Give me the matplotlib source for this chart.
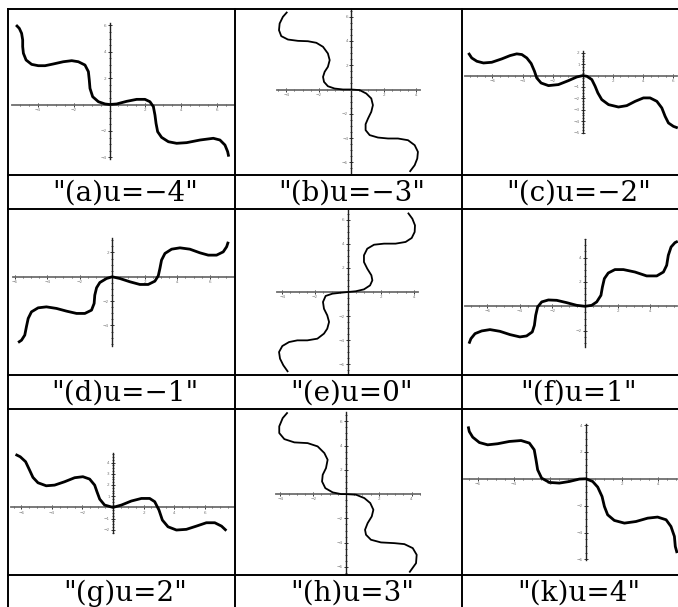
import numpy as np
import matplotlib.pyplot as plt
from matplotlib.lines import Line2D
from matplotlib.ticker import FixedLocator, FuncFormatter

W, H = 678, 607

captions = ['"(a)u=−4"', '"(b)u=−3"', '"(c)u=−2"',
            '"(d)u=−1"', '"(e)u=0"', '"(f)u=1"',
            '"(g)u=2"', '"(h)u=3"', '"(k)u=4"']

# curve samples for each u
a_x = [-5.22, -5.04, -4.91, -4.85, -4.85, -4.81, -4.66, -4.35, -3.98, -3.60, -3.14, -2.58, -2.11, -1.74,
       -1.37, -1.18, -1.13, -1.09, -0.94, -0.62, -0.25, 0.0, 0.40, 0.96, 1.52, 1.98, 2.26, 2.45, 2.54,
       2.60, 2.69, 2.91, 3.29, 3.75, 4.31, 5.06, 5.80, 6.17, 6.45, 6.60, 6.66]
a_y = [6.02, 5.77, 5.39, 4.89, 4.38, 3.88, 3.37, 3.04, 2.94, 2.94, 3.07, 3.24, 3.32, 3.24,
       2.99, 2.49, 1.86, 1.22, 0.59, 0.21, 0.04, 0.0, 0.04, 0.24, 0.39, 0.39, 0.21, -0.16, -0.80,
       -1.43, -2.06, -2.49, -2.82, -2.94, -2.89, -2.69, -2.56, -2.69, -3.07, -3.57, -3.95]

b_x = [-3.94, -4.21, -4.41, -4.45, -4.31, -3.90, -3.28, -2.67, -2.15, -1.74, -1.44, -1.33, -1.44,
       -1.64, -1.74, -1.68, -1.44, -1.03, -0.51, 0.0, 0.51, 0.92, 1.23, 1.33, 1.23, 1.03, 0.88, 0.88,
       1.13, 1.64, 2.26, 2.87, 3.49, 3.90, 4.10, 4.06, 3.90, 3.59]
b_y = [6.40, 5.99, 5.44, 4.89, 4.40, 4.12, 4.01, 3.98, 3.85, 3.52, 2.97, 2.42, 1.87,
       1.46, 1.04, 0.63, 0.27, 0.08, 0.0, 0.0, -0.05, -0.33, -0.74, -1.29, -1.84, -2.39, -2.86, -3.35,
       -3.76, -3.96, -4.04, -4.04, -4.18, -4.59, -5.14, -5.69, -6.24, -6.79]

c_x = [-7.60, -7.38, -7.04, -6.60, -6.05, -5.38, -4.83, -4.39, -4.05, -3.72, -3.43, -3.21, -3.06,
       -2.77, -2.28, -1.62, -0.95, -0.40, 0.0, 0.27, 0.60, 0.82, 1.00, 1.26, 1.71, 2.37, 2.92, 3.48,
       4.03, 4.47, 4.92, 5.25, 5.47, 5.69, 6.02, 6.31]
c_y = [1.99, 1.55, 1.26, 1.11, 1.17, 1.47, 1.76, 1.91, 1.85, 1.55, 1.06, 0.38, -0.21,
       -0.65, -0.88, -0.79, -0.44, -0.12, 0.0, -0.06, -0.35, -0.94, -1.52, -2.11, -2.55, -2.76, -2.64,
       -2.26, -1.96, -1.96, -2.26, -2.84, -3.58, -4.16, -4.46, -4.60]

d_x = [-5.78, -5.57, -5.37, -5.27, -5.16, -4.96, -4.55, -4.04, -3.42, -2.81, -2.19, -1.68, -1.27,
       -1.11, -1.07, -0.96, -0.76, -0.35, 0.0, 0.47, 1.09, 1.70, 2.21, 2.62, 2.83, 2.93, 3.03, 3.24,
       3.65, 4.16, 4.77, 5.39, 5.90, 6.41, 6.82, 7.03, 7.13]
d_y = [-5.40, -5.21, -4.79, -4.11, -3.42, -2.88, -2.55, -2.47, -2.60, -2.82, -3.01, -3.01, -2.74,
       -2.19, -1.51, -0.90, -0.47, -0.14, 0.0, -0.14, -0.41, -0.63, -0.63, -0.36, 0.08, 0.68, 1.37,
       1.92, 2.27, 2.38, 2.27, 1.97, 1.78, 1.78, 2.05, 2.47, 2.88]

e_x = [3.64, 3.91, 4.07, 4.05, 3.87, 3.50, 2.89, 2.19, 1.58, 1.17, 0.97, 0.97, 1.17, 1.42, 1.48,
       1.34, 0.97, 0.47, 0.0, -0.45, -0.95, -1.36, -1.52, -1.46, -1.26, -1.15, -1.26, -1.46, -1.86,
       -2.47, -3.08, -3.58, -3.99, -4.19, -4.13, -3.93, -3.64]
e_y = [6.59, 6.09, 5.54, 4.99, 4.49, 4.16, 4.02, 4.02, 3.93, 3.60, 3.05, 2.49, 1.94, 1.39, 0.97,
       0.55, 0.22, 0.06, 0.0, -0.06, -0.14, -0.33, -0.83, -1.39, -1.94, -2.49, -3.05, -3.46, -3.88,
       -4.02, -4.02, -4.16, -4.49, -4.99, -5.54, -6.09, -6.65]

f_x = [-7.13, -7.01, -6.76, -6.35, -5.84, -5.23, -4.61, -4.00, -3.59, -3.24, -3.11, -3.03, -2.91,
       -2.66, -2.25, -1.74, -1.13, -0.51, 0.0, 0.41, 0.72, 0.98, 1.07, 1.19, 1.43, 1.84, 2.36, 3.07,
       3.79, 4.41, 4.82, 5.02, 5.12, 5.29, 5.53, 5.70]
f_y = [-3.06, -2.65, -2.24, -2.02, -1.91, -2.05, -2.32, -2.51, -2.43, -2.10, -1.56, -0.74, -0.05,
       0.36, 0.52, 0.49, 0.30, 0.08, 0.0, 0.08, 0.36, 0.90, 1.58, 2.27, 2.73, 3.01, 3.01, 2.81,
       2.49, 2.49, 2.81, 3.36, 4.18, 4.86, 5.22, 5.33]

g_x = [-6.38, -6.07, -5.72, -5.46, -5.24, -4.91, -4.37, -3.82, -3.17, -2.51, -1.97, -1.53, -1.20,
       -1.05, -0.87, -0.55, 0.0, 0.55, 1.20, 1.86, 2.40, 2.73, 3.01, 3.23, 3.60, 4.15, 4.80, 5.46,
       6.11, 6.66, 7.10, 7.42]
g_y = [4.73, 4.52, 4.08, 3.33, 2.68, 2.20, 1.93, 1.99, 2.29, 2.65, 2.74, 2.53, 1.99,
       1.40, 0.74, 0.21, 0.0, 0.21, 0.57, 0.80, 0.80, 0.51, -0.24, -1.13, -1.73, -2.02, -1.96, -1.67,
       -1.37, -1.37, -1.67, -2.08]

h_x = [-3.56, -3.86, -4.07, -4.07, -3.76, -3.15, -2.34, -1.73, -1.32, -1.12, -1.22, -1.42, -1.46,
       -1.26, -0.81, -0.30, 0.0, 0.61, 1.12, 1.48, 1.67, 1.57, 1.32, 1.16, 1.22, 1.52, 2.13, 2.95,
       3.56, 4.07, 4.31, 4.27, 3.86]
h_y = [6.73, 6.26, 5.58, 5.03, 4.53, 4.26, 4.20, 3.93, 3.38, 2.83, 2.14, 1.59, 1.04,
       0.49, 0.14, 0.0, 0.0, -0.05, -0.33, -0.74, -1.29, -1.84, -2.39, -2.94, -3.35, -3.76, -3.98,
       -4.04, -4.12, -4.45, -5.00, -5.69, -6.46]

k_x = [-6.53, -6.47, -6.28, -5.91, -5.45, -4.90, -4.25, -3.60, -3.14, -2.87, -2.77, -2.68, -2.46,
       -2.03, -1.48, -0.92, -0.37, 0.0, 0.37, 0.65, 0.89, 1.02, 1.20, 1.57, 2.13, 2.77, 3.42, 3.97,
       4.44, 4.71, 4.90, 4.95, 5.05]
k_y = [3.90, 3.52, 3.10, 2.70, 2.53, 2.61, 2.78, 2.85, 2.66, 2.16, 1.41, 0.67, 0.05,
       -0.27, -0.32, -0.20, -0.02, 0.0, -0.20, -0.62, -1.32, -2.06, -2.68, -3.10, -3.30, -3.18, -2.93,
       -2.85, -3.05, -3.55, -4.29, -5.04, -5.53]

curves = [(a_x, a_y), (b_x, b_y), (c_x, c_y), (d_x, d_y), (e_x, e_y),
          (f_x, f_y), (g_x, g_y), (h_x, h_y), (k_x, k_y)]

# origin in pixels, pixels per unit, axis extents, tick steps
panels = [
    dict(o=(109.5, 104.5), s=(17.9, 13.2), xb=(-5.45, 8), yb=(-4.1, 6.2), yt=2, lw=2.0),
    dict(o=(351.3, 89.5), s=(16.25, 12.13), xb=(-4.6, 4.21), yb=(-6.9, 6.6), yt=2, lw=1.3),
    dict(o=(582.8, 75.6), s=(15.05, 11.38), xb=(-7.84, 8), yb=(-5.0, 2.2), yt=1, lw=2.0),
    dict(o=(112.2, 276.8), s=(16.28, 12.17), xb=(-6.1, 8), yb=(-5.65, 3.15), yt=2, lw=2.0),
    dict(o=(348.0, 292.0), s=(16.46, 12.03), xb=(-4.3, 4.25), yb=(-6.8, 7.0), yt=2, lw=1.3),
    dict(o=(585.0, 306.3), s=(16.27, 12.2), xb=(-7.4, 8), yb=(-3.3, 5.55), yt=2, lw=2.0),
    dict(o=(113.0, 507.4), s=(15.28, 11.2), xb=(-6.7, 8), yb=(-2.3, 4.9), yt=1, lw=2.0),
    dict(o=(346.0, 494.1), s=(16.4, 12.14), xb=(-4.25, 4.5), yb=(-6.6, 6.8), yt=2, lw=1.3),
    dict(o=(586.0, 478.8), s=(18.04, 13.43), xb=(-6.75, 8), yb=(-6.05, 4.1), yt=2, lw=2.0),
]

cols = [(8, 235), (235, 462), (462, 689)]
plot_rows = [(8.5, 175), (208.5, 375), (409, 575)]
cap_rows = [(175, 208.5), (375, 409), (575, 609)]


def fx(px):
    return px / W


def fy(py):
    return 1 - py / H


def tick_fmt(v, pos):
    if abs(v) < 1e-9:
        return ''
    return f'{v:g}'.replace('-', '\u2212')


fig = plt.figure(figsize=(W / 100, H / 100), dpi=100)

for i, (cx, cy) in enumerate(curves):
    r, c = divmod(i, 3)
    x0, x1 = cols[c]
    y0, y1 = plot_rows[r]
    p = panels[i]
    ox, oy = p['o']
    sx, sy = p['s']
    ax = fig.add_axes([fx(x0), fy(y1), (x1 - x0) / W, (y1 - y0) / H])
    ax.patch.set_alpha(0)
    ax.set_xlim((x0 - ox) / sx, (x1 - ox) / sx)
    ax.set_ylim((oy - y1) / sy, (oy - y0) / sy)

    # keep the axis lines inside the visible part of the cell
    xlo = max(p['xb'][0], (x0 + 1 - ox) / sx)
    xhi = min(p['xb'][1], (min(x1, W) - 1 - ox) / sx)
    ylo = max(p['yb'][0], (oy - y1 + 1) / sy)
    yhi = min(p['yb'][1], (oy - y0 - 1) / sy)

    for side in ('top', 'right'):
        ax.spines[side].set_visible(False)
    ax.spines['bottom'].set_position(('data', 0))
    ax.spines['left'].set_position(('data', 0))
    ax.spines['bottom'].set_bounds(xlo, xhi)
    ax.spines['left'].set_bounds(ylo, yhi)
    ax.spines['bottom'].set_color('#6e6e6e')
    ax.spines['bottom'].set_linewidth(1.3)
    ax.spines['left'].set_color('#222222')
    ax.spines['left'].set_linewidth(1.0)

    xmaj = [v for v in np.arange(-8, 9, 2) if xlo <= v <= xhi - 0.2]
    xmin = [v for v in np.arange(-8, 8.01, 0.5) if xlo <= v <= xhi]
    ystep = p['yt']
    yminstep = 0.5 if ystep == 2 else 0.25
    ymaj = [v for v in np.arange(-8, 9, ystep) if ylo <= v <= yhi]
    ymin = [v for v in np.arange(-8, 8.01, yminstep) if ylo <= v <= yhi]
    ax.xaxis.set_major_locator(FixedLocator(xmaj))
    ax.xaxis.set_minor_locator(FixedLocator(xmin))
    ax.yaxis.set_major_locator(FixedLocator(ymaj))
    ax.yaxis.set_minor_locator(FixedLocator(ymin))
    ax.xaxis.set_major_formatter(FuncFormatter(tick_fmt))
    ax.yaxis.set_major_formatter(FuncFormatter(tick_fmt))
    ax.tick_params(which='major', direction='inout', length=2.6, width=0.7,
                   labelsize=3, pad=1.0, colors='#333333', labelcolor='#777777')
    ax.tick_params(which='minor', direction='inout', length=1.6, width=0.6, colors='#333333')

    ax.plot(cx, cy, color='black', lw=p['lw'], solid_joinstyle='round',
            solid_capstyle='butt', zorder=3)

    cy0, cy1 = cap_rows[r]
    fig.text(fx((x0 + x1) / 2 + 3.5), fy(cy0 + 26), captions[i],
             ha='center', va='baseline', fontsize=20, family='DejaVu Serif')

# table rules
grid_kw = dict(color='black', lw=1.4, transform=fig.transFigure)
for py in (8.5, 175, 208.5, 375, 409, 575):
    fig.add_artist(Line2D([fx(8), fx(689)], [fy(py), fy(py)], **grid_kw))
for px in (8, 235, 462):
    fig.add_artist(Line2D([fx(px), fx(px)], [fy(8.5), fy(609)], **grid_kw))

fig.savefig('out.png', dpi=100)
